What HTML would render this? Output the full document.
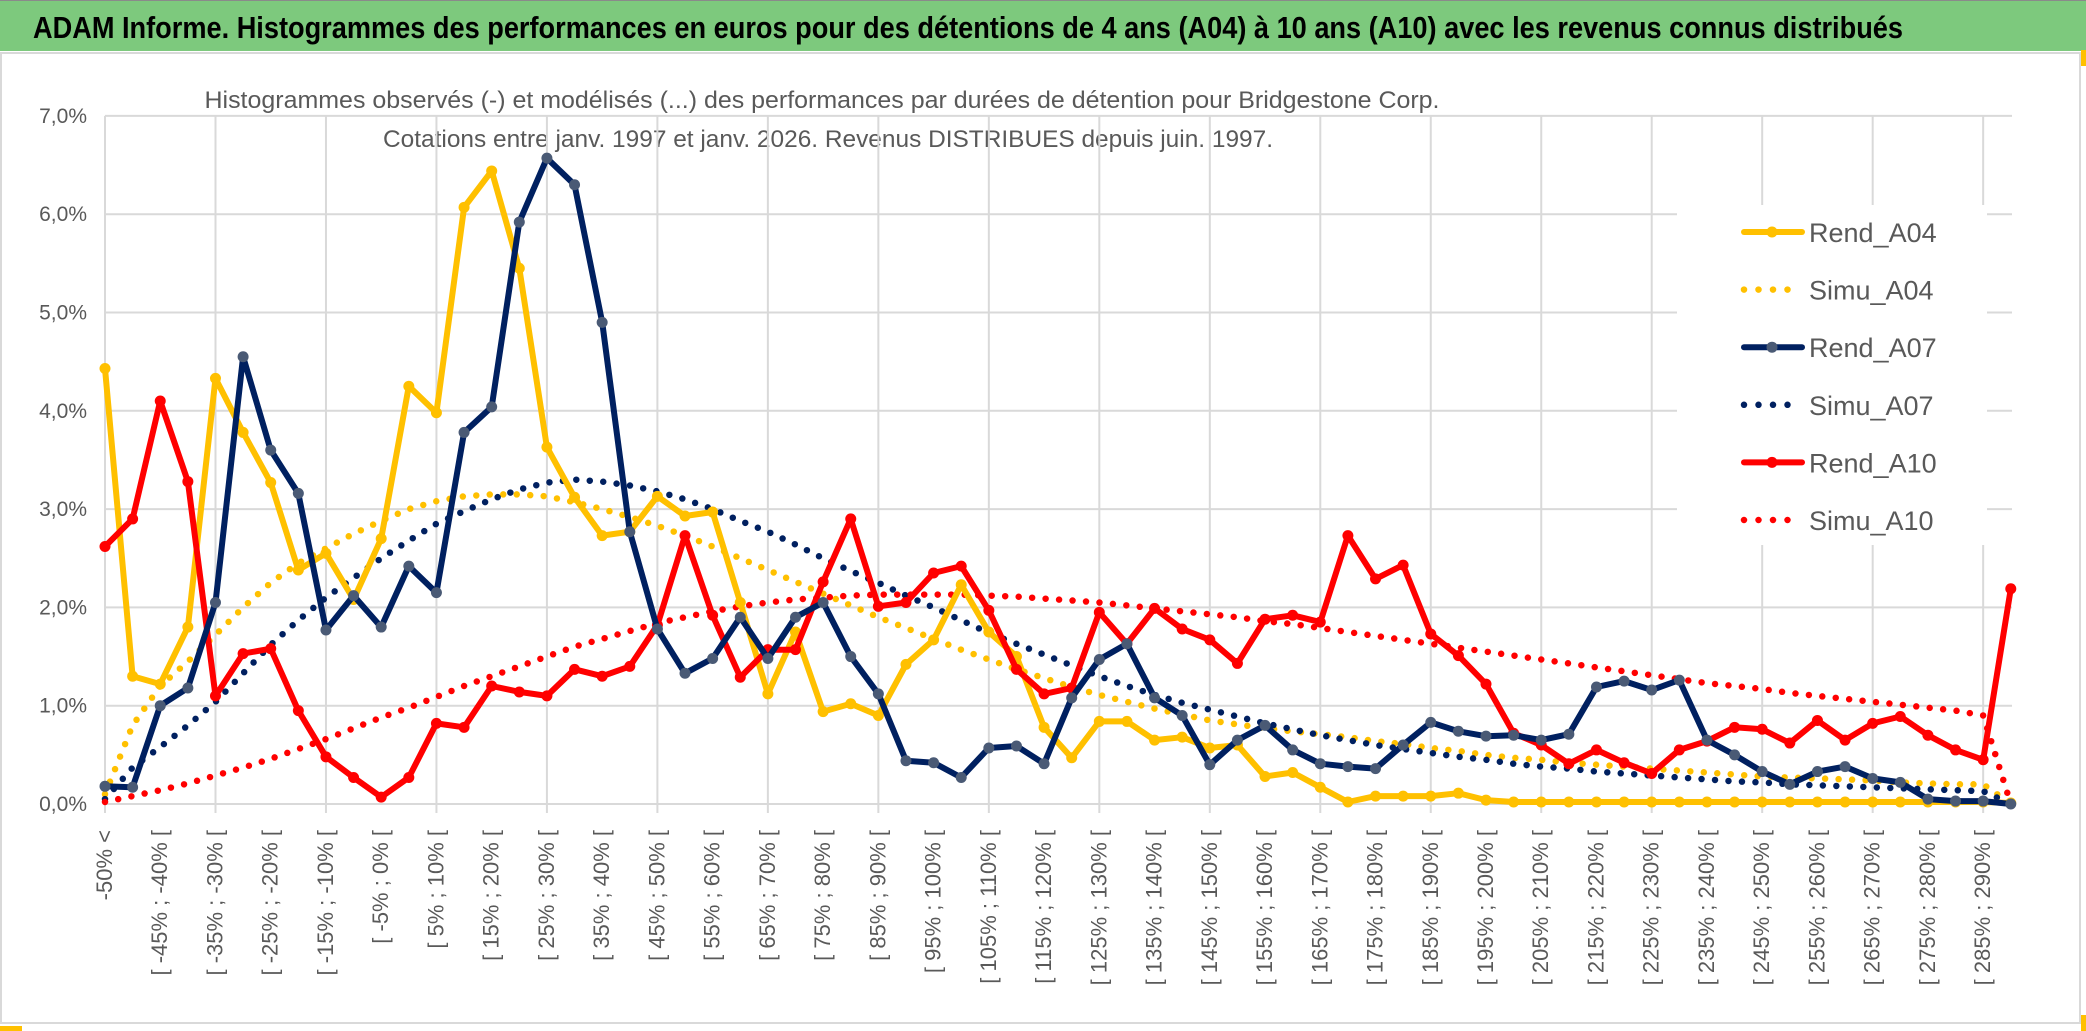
<!DOCTYPE html>
<html><head><meta charset="utf-8"><style>
html,body{margin:0;padding:0;background:#fff;}
svg{display:block;}
text{font-family:"Liberation Sans Narrow","Liberation Sans",sans-serif;}
</style></head><body>
<svg id="chart" width="2086" height="1031" viewBox="0 0 2086 1031" xmlns="http://www.w3.org/2000/svg">
<rect x="0" y="0" width="2086" height="1031" fill="#ffffff"/>
<rect x="0" y="0" width="2086" height="51" fill="#7dc97d"/>
<line x1="0" y1="0.5" x2="2086" y2="0.5" stroke="#8a8a8a"/>
<text x="33" y="38" font-size="31" font-weight="bold" fill="#000" textLength="1870" lengthAdjust="spacingAndGlyphs">ADAM Informe. Histogrammes des performances en euros pour des détentions de 4 ans (A04) à 10 ans (A10) avec les revenus connus distribués</text>
<rect x="1" y="53" width="2079" height="970" fill="#fff" stroke="#d9d9d9" stroke-width="2"/>
<rect x="0" y="1026" width="22" height="5" fill="#ffc000"/>
<rect x="2081" y="50" width="5" height="16" fill="#ffc000"/>
<rect x="2081" y="1015" width="5" height="16" fill="#ffc000"/>
<text x="822" y="108" font-size="24" fill="#595959" text-anchor="middle" textLength="1235" lengthAdjust="spacingAndGlyphs">Histogrammes observés (-) et modélisés (...) des performances par durées de détention pour Bridgestone Corp.</text>
<text x="828" y="147" font-size="24" fill="#595959" text-anchor="middle" textLength="890" lengthAdjust="spacingAndGlyphs">Cotations entre janv. 1997 et janv. 2026. Revenus DISTRIBUES depuis juin. 1997.</text>
<g id="grid"></g>
<g id="axes"></g>
<g id="series"></g>
<g id="legend"></g>
</svg>
<script>
const categories = ["-50% <"];
for (let k = -50; k < 295; k += 5) categories.push("[ " + k + "% ; " + (k + 5) + "% [");
const yTicks = [0, 1, 2, 3, 4, 5, 6, 7];
const yTickLabels = ["0,0%", "1,0%", "2,0%", "3,0%", "4,0%", "5,0%", "6,0%", "7,0%"];
const rendA04 = [4.43,1.3,1.22,1.8,4.33,3.78,3.27,2.38,2.55,2.08,2.7,4.25,3.98,6.07,6.44,5.45,3.63,3.12,2.73,2.77,3.13,2.93,2.97,2.05,1.12,1.75,0.94,1.02,0.9,1.42,1.67,2.23,1.75,1.5,0.78,0.47,0.84,0.84,0.65,0.68,0.57,0.6,0.28,0.32,0.17,0.02,0.08,0.08,0.08,0.11,0.04,0.02,0.02,0.02,0.02,0.02,0.02,0.02,0.02,0.02,0.02,0.02,0.02,0.02,0.02,0.02,0.02,0.02,0.02,0.01];
const simuA04 = [0.1,0.8,1.2,1.45,1.72,2.0,2.25,2.45,2.6,2.75,2.88,3.0,3.08,3.13,3.15,3.15,3.13,3.07,3.0,2.92,2.83,2.73,2.62,2.5,2.38,2.26,2.14,2.02,1.9,1.79,1.68,1.57,1.47,1.37,1.28,1.19,1.11,1.04,0.97,0.91,0.85,0.81,0.77,0.74,0.71,0.68,0.64,0.61,0.57,0.54,0.5,0.47,0.45,0.42,0.4,0.38,0.36,0.34,0.32,0.3,0.28,0.27,0.26,0.25,0.24,0.22,0.21,0.2,0.2,0.0];
const rendA07 = [0.18,0.17,1.0,1.18,2.05,4.55,3.6,3.16,1.77,2.12,1.8,2.42,2.15,3.78,4.04,5.92,6.57,6.3,4.9,2.77,1.78,1.33,1.48,1.9,1.48,1.9,2.05,1.5,1.12,0.44,0.42,0.27,0.57,0.59,0.41,1.08,1.47,1.63,1.08,0.9,0.4,0.65,0.8,0.55,0.41,0.38,0.36,0.6,0.83,0.74,0.69,0.7,0.65,0.71,1.19,1.25,1.16,1.26,0.65,0.5,0.33,0.2,0.33,0.38,0.26,0.22,0.05,0.03,0.03,0.0];
const simuA07 = [0.05,0.37,0.58,0.8,1.04,1.33,1.62,1.87,2.1,2.3,2.5,2.68,2.85,2.98,3.1,3.2,3.27,3.3,3.28,3.24,3.18,3.1,3.0,2.88,2.77,2.64,2.5,2.37,2.25,2.12,2.0,1.87,1.74,1.63,1.52,1.41,1.3,1.2,1.11,1.03,0.96,0.89,0.82,0.76,0.7,0.65,0.6,0.56,0.52,0.48,0.45,0.41,0.38,0.36,0.33,0.31,0.29,0.27,0.25,0.23,0.22,0.2,0.19,0.18,0.17,0.16,0.15,0.14,0.13,0.0];
const rendA10 = [2.62,2.9,4.1,3.28,1.1,1.53,1.58,0.95,0.48,0.27,0.07,0.27,0.82,0.78,1.2,1.14,1.1,1.37,1.3,1.4,1.82,2.73,1.92,1.29,1.57,1.57,2.26,2.9,2.01,2.05,2.35,2.42,1.97,1.37,1.12,1.18,1.95,1.63,1.99,1.78,1.67,1.43,1.88,1.92,1.85,2.73,2.29,2.43,1.73,1.51,1.22,0.72,0.6,0.41,0.55,0.42,0.31,0.55,0.64,0.78,0.76,0.62,0.85,0.65,0.82,0.89,0.7,0.55,0.45,2.19];
const simuA10 = [0.02,0.08,0.14,0.21,0.29,0.37,0.46,0.56,0.66,0.77,0.88,0.98,1.09,1.2,1.3,1.4,1.5,1.6,1.68,1.76,1.84,1.9,1.96,2.01,2.05,2.08,2.1,2.12,2.13,2.13,2.13,2.13,2.12,2.11,2.09,2.07,2.05,2.02,1.99,1.96,1.93,1.9,1.86,1.83,1.79,1.75,1.71,1.67,1.63,1.59,1.55,1.51,1.47,1.43,1.39,1.35,1.31,1.27,1.23,1.2,1.17,1.13,1.1,1.07,1.04,1.01,0.98,0.95,0.9,0.0];
const legendLabels = ["Rend_A04","Simu_A04","Rend_A07","Simu_A07","Rend_A10","Simu_A10"];

const NS = "http://www.w3.org/2000/svg";
const X0 = 105, DX = 27.62, Y0 = 804, DY = 98.3;
function xScale(i){ return X0 + DX * i; }
function yScale(v){ return Y0 - DY * v; }
function mk(tag, attrs, parent){ const e = document.createElementNS(NS, tag); for (const k in attrs) e.setAttribute(k, attrs[k]); parent.appendChild(e); return e; }

const grid = document.getElementById("grid");
const axes = document.getElementById("axes");
const seriesG = document.getElementById("series");
const legendG = document.getElementById("legend");
const xEnd = 2012;

yTicks.forEach((t, k) => {
  const ln = mk("line", {x1: X0, x2: xEnd, y1: yScale(t), y2: yScale(t), stroke: "#d9d9d9", "stroke-width": 2}, grid);
  
  
  const tx = mk("text", {x: 87, y: yScale(t) + 7, "font-size": 21, fill: "#595959", "text-anchor": "end"}, axes);
  tx.textContent = yTickLabels[k];
  
  
});
for (let i = 0; i < categories.length; i += 4) {
  const ln = mk("line", {x1: xScale(i), x2: xScale(i), y1: yScale(7), y2: Y0 + 9, stroke: "#d9d9d9", "stroke-width": 2}, grid);
  
  
}
for (let i = 0; i < categories.length; i += 2) {
  const x = xScale(i) + 7, y = 830;
  const tx = mk("text", {x: x, y: y, "font-size": 22, fill: "#595959", "text-anchor": "end", transform: "rotate(-90 " + x + " " + y + ")"}, axes);
  tx.textContent = categories[i];
  
  
}

const defs = [
  {data: simuA04, color: "#ffc000", dotted: true, name: "simu-a04-line"},
  {data: simuA07, color: "#002060", dotted: true, name: "simu-a07-line"},
  {data: simuA10, color: "#ff0000", dotted: true, name: "simu-a10-line"},
  {data: rendA04, color: "#ffc000", dotted: false, marker: "#ffc000", name: "rend-a04-line"},
  {data: rendA10, color: "#ff0000", dotted: false, marker: "#ff0000", name: "rend-a10-line"},
  {data: rendA07, color: "#002060", dotted: false, marker: "#4a5a75", name: "rend-a07-line"}
];
defs.forEach(s => {
  const pts = s.data.map((v, i) => xScale(i).toFixed(1) + "," + yScale(v).toFixed(1)).join(" ");
  const attrs = {points: pts, fill: "none", stroke: s.color, "stroke-linejoin": "round"};
  if (s.dotted) { attrs["stroke-width"] = 6.5; attrs["stroke-dasharray"] = "0 13.5"; attrs["stroke-linecap"] = "round"; }
  else { attrs["stroke-width"] = 6; attrs["stroke-linecap"] = "round"; }
  const pl = mk("polyline", attrs, seriesG);
  
  
  if (!s.dotted) {
    s.data.forEach((v, i) => {
      const c = mk("circle", {cx: xScale(i), cy: yScale(v), r: 5.5, fill: s.marker}, seriesG);
      
      
    });
  }
});

const lg = mk("rect", {x: 1677, y: 205, width: 310, height: 340, fill: "#fff"}, legendG);


const lcolors = ["#ffc000","#ffc000","#002060","#002060","#ff0000","#ff0000"];
const lmarkers = ["#ffc000",null,"#4a5a75",null,"#ff0000",null];
legendLabels.forEach((lab, k) => {
  const y = 232 + k * 57.6;
  const g = mk("g", {}, legendG);
  
  
  if (lmarkers[k]) {
    mk("line", {x1: 1744, x2: 1802, y1: y, y2: y, stroke: lcolors[k], "stroke-width": 6, "stroke-linecap": "round"}, g);
    mk("circle", {cx: 1772, cy: y, r: 5.5, fill: lmarkers[k]}, g);
  } else {
    mk("line", {x1: 1744, x2: k === 5 ? 1802 : 1792, y1: y, y2: y, stroke: lcolors[k], "stroke-width": 6.5, "stroke-dasharray": "0 14.5", "stroke-linecap": "round"}, g);
  }
  const t = mk("text", {x: 1809, y: y + 10, "font-size": 27, fill: "#595959"}, g);
  t.textContent = lab;
});
</script>
</body></html>
